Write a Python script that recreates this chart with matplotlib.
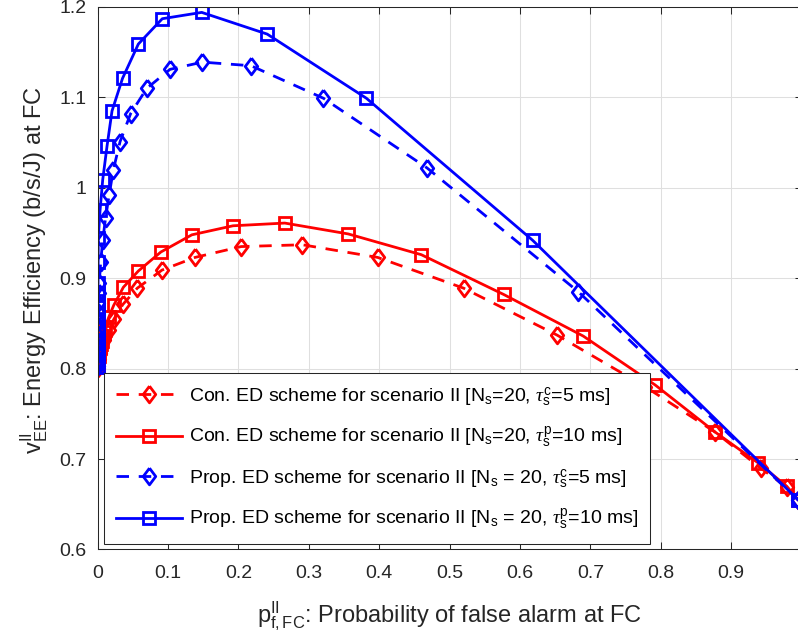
import numpy as np
import matplotlib
matplotlib.use('Agg')
import matplotlib.pyplot as plt
from matplotlib.ticker import FormatStrFormatter

plt.rcParams['font.family'] = ['Liberation Sans', 'DejaVu Sans']
plt.rcParams['mathtext.fontset'] = 'custom'
plt.rcParams['mathtext.rm'] = 'Liberation Sans'
plt.rcParams['mathtext.it'] = 'Liberation Serif:italic'
plt.rcParams['mathtext.bf'] = 'Liberation Sans:bold'

# values
con_c_x = [0.0, 0.0002, 0.0004, 0.0007, 0.001, 0.0015, 0.002, 0.003, 0.004, 0.0055, 0.007,
           0.009, 0.011, 0.016, 0.0234, 0.036, 0.0565, 0.0916, 0.1385, 0.204, 0.291, 0.398,
           0.520, 0.653, 0.778, 0.877, 0.942, 0.979, 0.995]
con_c_y = [0.801, 0.803, 0.805, 0.807, 0.809, 0.811, 0.814, 0.817, 0.821, 0.824, 0.828,
           0.832, 0.836, 0.843, 0.855, 0.871, 0.889, 0.909, 0.923, 0.935, 0.937, 0.923,
           0.889, 0.837, 0.780, 0.730, 0.690, 0.669, 0.655]

con_p_x = [0.0, 0.0001, 0.0003, 0.0005, 0.0008, 0.0012, 0.0016, 0.0022, 0.0028, 0.0036,
           0.0045, 0.0057, 0.007, 0.009, 0.011, 0.016, 0.023, 0.0367, 0.058, 0.090, 0.134,
           0.1925, 0.266, 0.356, 0.460, 0.577, 0.690, 0.792, 0.877, 0.938, 0.979, 0.995]
con_p_y = [0.802, 0.803, 0.805, 0.807, 0.809, 0.811, 0.814, 0.817, 0.820, 0.823,
           0.827, 0.831, 0.836, 0.841, 0.846, 0.857, 0.870, 0.890, 0.908, 0.929, 0.948,
           0.958, 0.961, 0.949, 0.926, 0.882, 0.836, 0.782, 0.730, 0.696, 0.670, 0.655]

prop_c_x = [0.0, 0.00001, 0.00004, 0.00008, 0.00012, 0.0002, 0.0003, 0.0004, 0.0006, 0.0009,
            0.0013, 0.0018, 0.0025, 0.0045, 0.0074, 0.0115, 0.0165, 0.0225, 0.032, 0.047,
            0.070, 0.103, 0.149, 0.218, 0.321, 0.468, 0.683, 0.995]
prop_c_y = [0.803, 0.806, 0.811, 0.816, 0.822, 0.829, 0.836, 0.844, 0.853, 0.863,
            0.873, 0.884, 0.895, 0.918, 0.942, 0.967, 0.992, 1.020, 1.051, 1.082,
            1.110, 1.131, 1.139, 1.135, 1.099, 1.022, 0.885, 0.655]

prop_p_x = [0.0, 0.00001, 0.00002, 0.00004, 0.00007, 0.0001, 0.00015, 0.0002, 0.0003, 0.0004,
            0.0005, 0.0006, 0.0008, 0.0009, 0.0011, 0.0036, 0.0074, 0.0135, 0.0206, 0.0355,
            0.058, 0.092, 0.148, 0.241, 0.382, 0.618, 0.995]
prop_p_y = [0.802, 0.808, 0.815, 0.822, 0.830, 0.838, 0.845, 0.853, 0.860, 0.868,
            0.875, 0.884, 0.895, 0.918, 0.944, 0.975, 1.009, 1.046, 1.085, 1.121,
            1.159, 1.187, 1.194, 1.170, 1.099, 0.942, 0.655]

labels = ['Con. ED scheme for scenario II [N$_\\mathregular{s}$=20, $\\tau_\\mathregular{s}^\\mathregular{c}$=5 ms]',
          'Con. ED scheme for scenario II [N$_\\mathregular{s}$=20, $\\tau_\\mathregular{s}^\\mathregular{p}$=10 ms]',
          'Prop. ED scheme for scenario II [N$_\\mathregular{s}$ = 20, $\\tau_\\mathregular{s}^\\mathregular{c}$=5 ms]',
          'Prop. ED scheme for scenario II [N$_\\mathregular{s}$ = 20, $\\tau_\\mathregular{s}^\\mathregular{p}$=10 ms]']

diamond = [(0, 1), (0.75, 0), (0, -1), (-0.75, 0), (0, 1)]
dash = (0, (4.5, 3.5))

fig = plt.figure(figsize=(7.98, 6.39), dpi=100)
ax = fig.add_axes([0.1222, 0.1401, 0.8822, 0.849])

ax.plot(con_c_x, con_c_y, color='red', ls=dash, lw=2, marker=diamond, ms=12,
        mfc='none', mew=2, label=labels[0])
ax.plot(con_p_x, con_p_y, color='red', ls='-', lw=2, marker='s', ms=8,
        mfc='none', mew=2, label=labels[1])
ax.plot(prop_c_x, prop_c_y, color='blue', ls=dash, lw=2, marker=diamond, ms=12,
        mfc='none', mew=2, label=labels[2])
ax.plot(prop_p_x, prop_p_y, color='blue', ls='-', lw=2, marker='s', ms=8,
        mfc='none', mew=2, label=labels[3])

ax.set_xlim(0, 1)
ax.set_ylim(0.6, 1.2)
ax.set_xticks(np.arange(0, 1.01, 0.1))
ax.set_yticks(np.arange(0.6, 1.21, 0.1))
ax.xaxis.set_major_formatter(FormatStrFormatter('%g'))
ax.yaxis.set_major_formatter(FormatStrFormatter('%g'))
ax.tick_params(direction='in', length=5, width=0.75, color='#262626', labelsize=14,
               top=True, right=True, labelcolor='#262626')
ax.tick_params(axis='x', pad=11)
ax.tick_params(axis='y', pad=8)
ax.grid(True, color='#dfdfdf', lw=0.75)
ax.set_axisbelow(True)
for s in ax.spines.values():
    s.set_color('#262626')
    s.set_linewidth(0.75)

ax.set_xlabel('$\\mathregular{p_{f,FC}^{II}}$: Probability of false alarm at FC', fontsize=17,
              color='#262626', labelpad=13)
ax.set_ylabel('$\\mathregular{v_{EE}^{II}}$: Energy Efficiency (b/s/J) at FC', fontsize=17,
              color='#262626')
ax.yaxis.set_label_coords(-0.068, 0.515)

leg = ax.legend(loc='lower left', bbox_to_anchor=(0.0092, 0.010), borderaxespad=0,
                fontsize=14, handlelength=3.4, handletextpad=0.35, labelspacing=0.85,
                fancybox=False, framealpha=1, edgecolor='#262626', borderpad=0.6)
leg.get_frame().set_linewidth(0.75)

plt.savefig('out.png', dpi=100)
